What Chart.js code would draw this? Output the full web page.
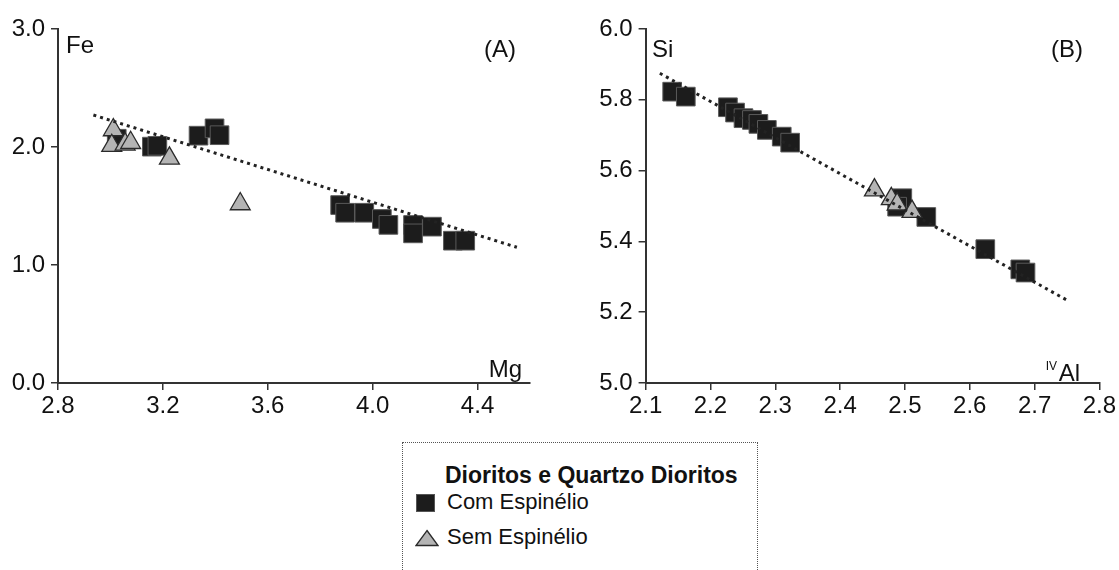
<!DOCTYPE html>
<html>
<head>
<meta charset="utf-8">
<script src="https://cdn.jsdelivr.net/npm/chart.js@4.4.1/dist/chart.umd.min.js"></script>
<style>
  html, body { margin:0; padding:0; background:#fff; }
  body { width:1119px; height:570px; position:relative; overflow:hidden; }
  canvas { position:absolute; top:0; }
  #legend { position:absolute; left:402px; top:442px; width:356px; height:150px;
            border:1px dotted #555; box-sizing:border-box; font-family:'Liberation Sans', Arial, sans-serif; color:#111; }
  #legend .title { position:absolute; left:42px; top:19px; font-weight:bold; font-size:23px; white-space:nowrap; }
  #legend .item { position:absolute; left:44px; font-size:22px; white-space:nowrap; }
  #legend .sq { position:absolute; left:13px; top:51px; width:19px; height:18px; background:#1c1c1c; border:1px solid #555; box-sizing:border-box; }
  #legend svg { position:absolute; left:12px; top:86px; }
</style>
</head>
<body>
<canvas id="cA" width="545" height="430" style="left:0px"></canvas>
<canvas id="cB" width="559" height="430" style="left:560px"></canvas>
<div id="legend">
  <div class="title">Dioritos e Quartzo Dioritos</div>
  <div class="sq"></div>
  <div class="item" style="top:46px">Com Espinélio</div>
  <svg width="24" height="18"><polygon points="12,1.5 23,16.5 1,16.5" fill="#b4b4b4" stroke="#2a2a2a" stroke-width="1.3"/></svg>
  <div class="item" style="top:81px">Sem Espinélio</div>
</div>
<script>
// ---- Chart (A): Fe vs Mg ----
const comMg = [3.024, 3.158, 3.179, 3.336, 3.397, 3.416, 3.876, 3.895, 3.968, 4.035, 4.06, 4.154, 4.154, 4.226, 4.306, 4.353];
const comFe = [2.07, 2.003, 2.01, 2.096, 2.158, 2.10, 1.508, 1.443, 1.443, 1.39, 1.34, 1.339, 1.268, 1.325, 1.206, 1.206];
const semMg = [3.011, 3.005, 3.056, 3.077, 3.225, 3.495];
const semFe = [2.144, 2.011, 2.023, 2.036, 1.904, 1.517];
const trendMg = [2.935, 4.55];
const trendFe = [2.271, 1.150];
const ticksMg = [2.8, 3.2, 3.6, 4.0, 4.4];
const ticksFe = [0.0, 1.0, 2.0, 3.0];

// ---- Chart (B): Si vs IV-Al ----
const comAl = [2.141, 2.162, 2.227, 2.238, 2.251, 2.264, 2.274, 2.287, 2.310, 2.323, 2.496, 2.488, 2.533, 2.624, 2.678, 2.686];
const comSi = [5.823, 5.809, 5.779, 5.764, 5.748, 5.743, 5.732, 5.715, 5.696, 5.679, 5.522, 5.498, 5.469, 5.378, 5.321, 5.312];
const semAl = [2.453, 2.479, 2.488, 2.511];
const semSi = [5.545, 5.52, 5.505, 5.484];
const trendAl = [2.122, 2.750];
const trendSi = [5.875, 5.234];
const ticksAl = [2.1, 2.2, 2.3, 2.4, 2.5, 2.6, 2.7, 2.8];
const ticksSi = [5.0, 5.2, 5.4, 5.6, 5.8, 6.0];

const FONT = "'Liberation Sans Narrow', 'Liberation Sans', Arial, sans-serif";
const pts = (xs, ys) => xs.map((x, i) => ({x: x, y: ys[i]}));

function datasets(cx, cy, sx, sy, lx, ly) {
  return [
    { label:'trend', type:'line', data: pts(lx, ly), showLine:true, borderColor:'#222', borderWidth:3,
      borderDash:[3,4], pointRadius:0, fill:false, order:0 },
    { label:'Sem Espinélio', data: pts(sx, sy), pointStyle:'triangle', pointRadius:11.5,
      backgroundColor:'#b4b4b4', borderColor:'#2a2a2a', borderWidth:1.3, order:1 },
    { label:'Com Espinélio', data: pts(cx, cy), pointStyle:'rect', pointRadius:13.2,
      backgroundColor:'#1c1c1c', borderColor:'#5a5a5a', borderWidth:1, order:2 }
  ];
}

function axis(min, max, ticks, fixedSize, isX) {
  return {
    type:'linear', min:min, max:max,
    afterBuildTicks: s => { s.ticks = ticks.map(v => ({value:v})); },
    afterFit: s => { if (isX) s.height = fixedSize; else s.width = fixedSize; },
    grid:{ drawOnChartArea:false, drawTicks:true, tickLength:7, color:'#333', lineWidth:1.5 },
    border:{ display:true, color:'#333', width:2 },
    ticks:{ font:{family:FONT, size:24}, color:'#111', padding: isX ? 2 : 6,
            autoSkip:false, maxRotation:0, callback: v => Number(v).toFixed(1) }
  };
}

function textPlugin(items) {
  return {
    id:'cornerText',
    afterDraw(chart) {
      const ctx = chart.ctx;
      ctx.save();
      ctx.fillStyle = '#111';
      ctx.textBaseline = 'alphabetic';
      items.forEach(it => {
        ctx.font = (it.size || 24) + 'px ' + FONT;
        ctx.textAlign = it.align || 'left';
        ctx.fillText(it.text, it.x, it.y);
      });
      ctx.restore();
    }
  };
}

new Chart(document.getElementById('cA'), {
  type:'scatter',
  data:{ datasets: datasets(comMg, comFe, semMg, semFe, trendMg, trendFe) },
  options:{
    responsive:false, animation:false, devicePixelRatio:1,
    layout:{ padding:{ top:29, right:15, bottom:7, left:0 } },
    plugins:{ legend:{display:false}, tooltip:{enabled:false} },
    scales:{ x: axis(2.8, 4.6, ticksMg, 40, true), y: axis(0, 3, ticksFe, 58, false) }
  },
  plugins:[ textPlugin([
    {text:'Fe', x:66, y:53},
    {text:'(A)', x:516, y:57, align:'right'},
    {text:'Mg', x:522, y:377, align:'right'}
  ]) ]
});

new Chart(document.getElementById('cB'), {
  type:'scatter',
  data:{ datasets: datasets(comAl, comSi, semAl, semSi, trendAl, trendSi) },
  options:{
    responsive:false, animation:false, devicePixelRatio:1,
    layout:{ padding:{ top:29, right:19.6, bottom:7, left:0 } },
    plugins:{ legend:{display:false}, tooltip:{enabled:false} },
    scales:{ x: axis(2.1, 2.8, ticksAl, 40, true), y: axis(5.0, 6.0, ticksSi, 85.6, false) }
  },
  plugins:[ textPlugin([
    {text:'Si', x:92, y:57},
    {text:'(B)', x:523, y:57, align:'right'},
    {text:'IV', x:497, y:370, align:'right', size:12},
    {text:'Al', x:520, y:381, align:'right'}
  ]) ]
});
</script>
</body>
</html>
